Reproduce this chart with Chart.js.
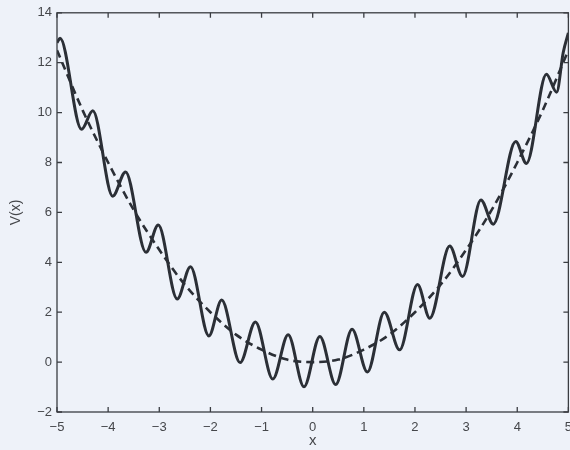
<!DOCTYPE html>
<html>
<head>
<meta charset="utf-8">
<script src="https://cdn.jsdelivr.net/npm/chart.js@4.4.1/dist/chart.umd.min.js"></script>
<style>
  html, body { margin: 0; padding: 0; background: #eef2f9; overflow: hidden; }
  #wrap { width: 580px; height: 450px; position: relative; }
</style>
</head>
<body>
<div id="wrap"><canvas id="c"></canvas></div>
<script>
// Oscillating potential V(x) (solid) — at extrema
const solidX = [-5.00, -4.94, -4.52, -4.30, -3.91, -3.66, -3.26, -3.02, -2.65, -2.39, -2.03, -1.78, -1.42, -1.12, -0.78, -0.48, -0.17, 0.14, 0.45, 0.77, 1.07, 1.40, 1.70, 2.05, 2.29, 2.68, 2.93, 3.29, 3.53, 3.97, 4.18, 4.57, 4.77, 4.90, 5.00];
const solidY = [12.80, 12.98, 9.33, 10.07, 6.65, 7.62, 4.40, 5.49, 2.53, 3.82, 1.05, 2.49, -0.02, 1.61, -0.68, 1.10, -0.99, 1.03, -0.90, 1.32, -0.40, 2.00, 0.49, 3.11, 1.76, 4.65, 3.43, 6.50, 5.53, 8.84, 7.96, 11.54, 10.82, 12.42, 13.20];
// Smooth envelope (dashed)
const dashX = [-5, -4.5, -4, -3.5, -3, -2.5, -2, -1.5, -1, -0.5, 0, 0.5, 1, 1.5, 2, 2.5, 3, 3.5, 4, 4.5, 5];
const dashY = [12.5, 10.1, 8.0, 6.1, 4.5, 3.1, 2.0, 1.1, 0.5, 0.1, 0.0, 0.1, 0.5, 1.1, 2.0, 3.1, 4.5, 6.1, 8.0, 10.1, 12.5];
// Axis ticks
const xTicks = [-5, -4, -3, -2, -1, 0, 1, 2, 3, 4, 5];
const yTicks = [-2, 0, 2, 4, 6, 8, 10, 12, 14];

const LINE = '#2b2f36';
const AXIS = '#3a3d42';
const TEXT = '#45474b';
const FONT = "'Liberation Sans', Arial, sans-serif";

const fmt = v => (v < 0 ? '\u2212' + Math.abs(v) : String(v));

const framePlugin = {
  id: 'frame',
  afterDatasetsDraw(chart) {
    const { ctx, chartArea: a, scales } = chart;
    ctx.save();
    ctx.strokeStyle = AXIS;
    ctx.lineWidth = 1.3;
    ctx.strokeRect(a.left, a.top, a.right - a.left, a.bottom - a.top);
    const L = 5;
    ctx.beginPath();
    xTicks.forEach(v => {
      const p = scales.x.getPixelForValue(v);
      ctx.moveTo(p, a.bottom); ctx.lineTo(p, a.bottom - L);
      ctx.moveTo(p, a.top); ctx.lineTo(p, a.top + L);
    });
    yTicks.forEach(v => {
      const p = scales.y.getPixelForValue(v);
      ctx.moveTo(a.left, p); ctx.lineTo(a.left + L, p);
      ctx.moveTo(a.right, p); ctx.lineTo(a.right - L, p);
    });
    ctx.stroke();
    ctx.restore();
  }
};

new Chart(document.getElementById('c'), {
  type: 'line',
  data: {
    datasets: [
      {
        data: solidX.map((x, i) => ({ x, y: solidY[i] })),
        borderColor: LINE,
        borderWidth: 3,
        pointRadius: 0,
        cubicInterpolationMode: 'monotone',
        fill: false
      },
      {
        data: dashX.map((x, i) => ({ x, y: dashY[i] })),
        borderColor: LINE,
        borderWidth: 2.6,
        borderDash: [8, 5],
        pointRadius: 0,
        cubicInterpolationMode: 'monotone',
        fill: false
      }
    ]
  },
  options: {
    responsive: true,
    maintainAspectRatio: false,
    animation: false,
    layout: { padding: { top: 12, right: 7, left: 0, bottom: 0 } },
    plugins: { legend: { display: false }, tooltip: { enabled: false } },
    scales: {
      x: {
        type: 'linear', min: -5, max: 5,
        afterBuildTicks: s => { s.ticks = xTicks.map(v => ({ value: v })); },
        afterFit: s => { s.height = 38; },
        grid: { display: false, drawTicks: false },
        border: { display: false },
        ticks: { callback: fmt, color: TEXT, font: { family: FONT, size: 13 }, padding: 8, maxRotation: 0, autoSkip: false },
        title: { display: true, text: 'x', color: TEXT, font: { family: FONT, size: 15 }, padding: { top: 0, bottom: 0 } }
      },
      y: {
        type: 'linear', min: -2, max: 14,
        afterBuildTicks: s => { s.ticks = yTicks.map(v => ({ value: v })); },
        afterFit: s => { s.width = 57; },
        grid: { display: false, drawTicks: false },
        border: { display: false },
        ticks: { callback: fmt, color: TEXT, font: { family: FONT, size: 13 }, padding: 5, autoSkip: false },
        title: { display: true, text: 'V(x)', color: TEXT, font: { family: FONT, size: 14 }, padding: { top: 8, bottom: 0 } }
      }
    }
  },
  plugins: [framePlugin]
});
</script>
</body>
</html>
